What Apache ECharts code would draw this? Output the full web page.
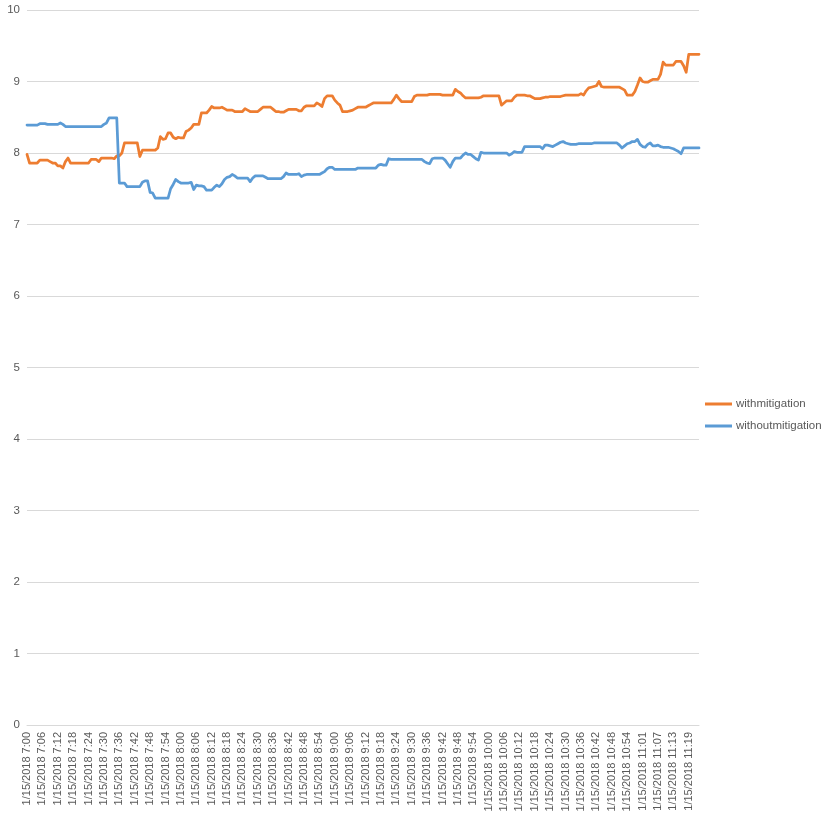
<!DOCTYPE html>
<html>
<head>
<meta charset="utf-8">
<script src="https://cdn.jsdelivr.net/npm/echarts@6/dist/echarts.min.js"></script>
<style>html,body{margin:0;padding:0;background:#fff}#chart{width:825px;height:820px}</style>
</head>
<body>
<div id="chart"></div>
<script>
const seriesNames = ['withmitigation', 'withoutmitigation'];
const datePrefix = '1/15/2018';
const startMinute = 7 * 60;      // 7:00
const missingMinutes = ['10:57']; // one minute absent from the log
const pointCount = 263;

const withMitigation = [
  7.98,7.86,7.86,7.86,7.86,7.90,7.90,7.90,7.90,7.88,
  7.86,7.86,7.82,7.82,7.79,7.88,7.93,7.86,7.86,7.86,
  7.86,7.86,7.86,7.86,7.86,7.91,7.91,7.91,7.88,7.93,
  7.93,7.93,7.93,7.93,7.92,7.96,7.96,8.00,8.14,8.14,
  8.14,8.14,8.14,8.14,7.95,8.04,8.04,8.04,8.04,8.04,
  8.04,8.07,8.23,8.19,8.20,8.28,8.28,8.22,8.20,8.22,
  8.21,8.21,8.30,8.32,8.35,8.40,8.40,8.40,8.56,8.56,
  8.56,8.60,8.65,8.63,8.63,8.63,8.64,8.62,8.60,8.60,
  8.60,8.58,8.58,8.58,8.58,8.62,8.60,8.58,8.58,8.58,
  8.58,8.61,8.64,8.64,8.64,8.64,8.61,8.58,8.58,8.57,
  8.57,8.59,8.61,8.61,8.61,8.61,8.59,8.59,8.64,8.66,
  8.66,8.66,8.66,8.70,8.68,8.65,8.76,8.80,8.80,8.80,
  8.74,8.70,8.67,8.58,8.58,8.58,8.59,8.60,8.62,8.64,
  8.64,8.64,8.64,8.66,8.68,8.70,8.70,8.70,8.70,8.70,
  8.70,8.70,8.70,8.75,8.81,8.76,8.72,8.72,8.72,8.72,
  8.72,8.79,8.81,8.81,8.81,8.81,8.81,8.82,8.82,8.82,
  8.82,8.82,8.81,8.81,8.81,8.81,8.81,8.89,8.86,8.84,
  8.80,8.77,8.77,8.77,8.77,8.77,8.77,8.78,8.80,8.80,
  8.80,8.80,8.80,8.80,8.80,8.67,8.70,8.73,8.73,8.73,
  8.78,8.81,8.81,8.81,8.81,8.80,8.80,8.78,8.76,8.76,
  8.76,8.77,8.78,8.78,8.79,8.79,8.79,8.79,8.79,8.80,
  8.81,8.81,8.81,8.81,8.81,8.81,8.83,8.81,8.87,8.91,
  8.92,8.93,8.94,9.00,8.93,8.92,8.92,8.92,8.92,8.92,
  8.92,8.92,8.90,8.88,8.81,8.81,8.81,8.86,8.95,9.05,
  9.00,8.99,8.99,9.01,9.03,9.03,9.03,9.10,9.27,9.23,
  9.23,9.23,9.23,9.28,9.28,9.28,9.22,9.13,9.38,9.38,
  9.38,9.38,9.38
];

const withoutMitigation = [
  8.39,8.39,8.39,8.39,8.39,8.41,8.41,8.41,8.40,8.40,
  8.40,8.40,8.40,8.42,8.40,8.37,8.37,8.37,8.37,8.37,
  8.37,8.37,8.37,8.37,8.37,8.37,8.37,8.37,8.37,8.37,
  8.40,8.42,8.49,8.49,8.49,8.49,7.58,7.58,7.58,7.53,
  7.53,7.53,7.53,7.53,7.53,7.59,7.61,7.61,7.45,7.44,
  7.37,7.37,7.37,7.37,7.37,7.37,7.50,7.56,7.63,7.60,
  7.58,7.58,7.58,7.58,7.59,7.49,7.55,7.54,7.54,7.53,
  7.48,7.48,7.48,7.52,7.55,7.53,7.57,7.63,7.66,7.67,
  7.70,7.68,7.65,7.65,7.65,7.65,7.65,7.60,7.65,7.68,
  7.68,7.68,7.68,7.66,7.64,7.64,7.64,7.64,7.64,7.64,
  7.67,7.72,7.70,7.70,7.70,7.70,7.71,7.67,7.69,7.70,
  7.70,7.70,7.70,7.70,7.70,7.72,7.74,7.78,7.80,7.80,
  7.77,7.77,7.77,7.77,7.77,7.77,7.77,7.77,7.77,7.79,
  7.79,7.79,7.79,7.79,7.79,7.79,7.79,7.83,7.84,7.83,
  7.83,7.92,7.91,7.91,7.91,7.91,7.91,7.91,7.91,7.91,
  7.91,7.91,7.91,7.91,7.91,7.88,7.86,7.85,7.92,7.93,
  7.93,7.93,7.93,7.90,7.85,7.80,7.88,7.93,7.93,7.93,
  7.97,8.00,7.98,7.98,7.95,7.92,7.90,8.01,8.00,8.00,
  8.00,8.00,8.00,8.00,8.00,8.00,8.00,8.00,7.97,7.99,
  8.02,8.01,8.01,8.01,8.09,8.09,8.09,8.09,8.09,8.09,
  8.09,8.06,8.11,8.11,8.10,8.09,8.11,8.13,8.15,8.16,
  8.14,8.13,8.12,8.12,8.12,8.13,8.13,8.13,8.13,8.13,
  8.13,8.14,8.14,8.14,8.14,8.14,8.14,8.14,8.14,8.14,
  8.14,8.11,8.07,8.10,8.13,8.14,8.16,8.16,8.19,8.12,
  8.09,8.08,8.12,8.14,8.10,8.10,8.11,8.09,8.08,8.08,
  8.08,8.07,8.06,8.04,8.02,7.99,8.07,8.07,8.07,8.07,
  8.07,8.07,8.07
];

// category labels: one per logged minute
const categories = [];
for (let m = startMinute; categories.length < pointCount; m++) {
  const t = Math.floor(m / 60) + ':' + String(m % 60).padStart(2, '0');
  if (missingMinutes.indexOf(t) >= 0) continue;
  categories.push(datePrefix + ' ' + t);
}

const textColor = '#595959';
const gridColor = '#d9d9d9';
const fontFamily = 'Liberation Sans, Arial, sans-serif';

const chart = echarts.init(document.getElementById('chart'), null, { renderer: 'canvas' });
chart.setOption({
  animation: false,
  backgroundColor: '#ffffff',
  textStyle: { fontFamily: fontFamily },
  grid: { left: 27, right: 126, top: 10, bottom: 95, containLabel: false, outerBoundsMode: 'none' },
  legend: {
    orient: 'vertical',
    left: 705,
    top: 398,
    padding: 0,
    itemWidth: 27,
    itemHeight: 3,
    itemGap: 10,
    icon: 'rect',
    textStyle: { color: textColor, fontSize: 11.5, fontFamily: fontFamily, padding: [0, 0, 0, -1] },
    data: seriesNames
  },
  xAxis: {
    type: 'category',
    data: categories,
    boundaryGap: false,
    axisLine: { show: true, lineStyle: { color: gridColor, width: 1 } },
    axisTick: { show: false },
    splitLine: { show: false },
    axisLabel: {
      interval: 5,
      rotate: 90,
      margin: 7,
      color: textColor,
      fontSize: 11,
      fontFamily: fontFamily
    }
  },
  yAxis: {
    type: 'value',
    min: 0,
    max: 10,
    interval: 1,
    axisLine: { show: false },
    axisTick: { show: false },
    splitLine: { show: true, lineStyle: { color: gridColor, width: 1 } },
    axisLabel: { color: textColor, fontSize: 11.5, margin: 7, fontFamily: fontFamily }
  },
  series: [
    {
      name: seriesNames[0],
      type: 'line',
      data: withMitigation,
      showSymbol: false,
      symbol: 'none',
      lineStyle: { color: '#ED7D31', width: 2.75, join: 'round', cap: 'round' },
      itemStyle: { color: '#ED7D31' }
    },
    {
      name: seriesNames[1],
      type: 'line',
      data: withoutMitigation,
      showSymbol: false,
      symbol: 'none',
      lineStyle: { color: '#5B9BD5', width: 2.75, join: 'round', cap: 'round' },
      itemStyle: { color: '#5B9BD5' }
    }
  ]
});
</script>
</body>
</html>
